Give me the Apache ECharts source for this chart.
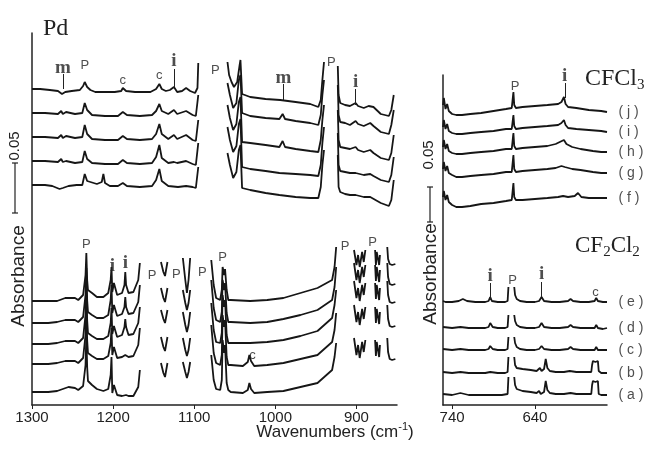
<!DOCTYPE html>
<html>
<head>
<meta charset="utf-8">
<script src="https://cdn.jsdelivr.net/npm/echarts@6/dist/echarts.min.js"></script>
<style>
  html, body { margin: 0; padding: 0; background: #fff; }
  #main { width: 656px; height: 450px; }
</style>
</head>
<body>
<div id="main"></div>
<script>
// tick labels of the two wavenumber axes
var pdTicks = [900, 1000, 1100, 1200, 1300];
var cfTicks = [640, 740];

// Pd panel, upper stack (CFCl3 runs), segments of [wavenumber, absorbance + offset]
var pdUp1 = [
  [[1300,.316],[1290,.316],[1278,.315],[1268,.314],[1263,.311],[1259,.313],[1251,.314],[1241,.315],[1237,.319],[1235,.323],[1232,.318],[1228,.315],[1222,.313],[1210,.313],[1198,.313],[1190,.314],[1188,.317],[1184,.314],[1173,.313],[1154,.313],[1147,.316],[1143,.321],[1140,.316],[1135,.314],[1130,.315],[1125,.318],[1121,.313],[1115,.314],[1110,.317],[1105,.314],[1099,.312],[1096,.317],[1095,.342]],
  [[1059,.343],[1057,.330],[1054,.323],[1051,.318],[1047,.323],[1044,.340],[1043,.345],[1041,.311],[1031,.308],[1012,.306],[994,.305],[975,.303],[957,.301],[947,.298],[944,.305],[942,.325],[940,.343]],
  [[923,.339],[922,.310],[920,.302],[914,.300],[908,.299],[901,.302],[898,.299],[891,.297],[885,.299],[883,.301],[879,.298],[870,.291],[860,.289],[857,.295],[854,.310]]
];
var pdUp2 = [
  [[1300,.292],[1284,.292],[1268,.291],[1264,.294],[1262,.291],[1258,.293],[1247,.291],[1238,.292],[1235,.302],[1232,.295],[1226,.290],[1210,.289],[1194,.289],[1188,.293],[1183,.290],[1167,.289],[1152,.290],[1147,.294],[1143,.301],[1140,.294],[1132,.291],[1125,.295],[1121,.291],[1110,.294],[1102,.290],[1098,.289],[1095,.310]],
  [[1059,.322],[1056,.310],[1052,.297],[1048,.302],[1045,.325],[1043,.330],[1041,.292],[1031,.289],[1012,.287],[995,.286],[991,.291],[988,.286],[975,.284],[957,.282],[947,.280],[944,.290],[942,.310],[940,.325]],
  [[923,.320],[922,.290],[920,.283],[914,.282],[908,.280],[901,.284],[898,.281],[891,.279],[883,.282],[879,.279],[870,.273],[860,.271],[857,.280],[854,.295]]
];
var pdUp3 = [
  [[1300,.268],[1284,.268],[1268,.267],[1264,.270],[1262,.267],[1258,.269],[1247,.267],[1238,.268],[1235,.280],[1232,.271],[1226,.266],[1210,.265],[1194,.265],[1188,.269],[1183,.266],[1167,.265],[1152,.266],[1147,.271],[1143,.281],[1140,.271],[1132,.266],[1125,.270],[1121,.266],[1110,.270],[1102,.265],[1098,.264],[1095,.285]],
  [[1059,.300],[1056,.287],[1052,.275],[1048,.281],[1045,.303],[1043,.308],[1041,.263],[1031,.262],[1012,.260],[995,.258],[991,.264],[988,.258],[975,.256],[957,.254],[947,.253],[944,.265],[942,.285],[940,.300]],
  [[923,.295],[922,.265],[920,.258],[914,.257],[908,.256],[901,.258],[898,.255],[891,.253],[883,.255],[879,.252],[870,.247],[860,.245],[857,.252],[854,.270]]
];
var pdUp4 = [
  [[1300,.244],[1284,.244],[1268,.243],[1264,.246],[1262,.243],[1258,.244],[1247,.242],[1238,.243],[1235,.254],[1232,.246],[1226,.242],[1210,.241],[1194,.241],[1188,.245],[1183,.242],[1167,.241],[1152,.242],[1147,.248],[1143,.260],[1140,.247],[1132,.242],[1125,.243],[1121,.242],[1110,.244],[1102,.241],[1098,.240],[1095,.262]],
  [[1059,.278],[1056,.265],[1052,.253],[1048,.259],[1045,.281],[1043,.286],[1041,.238],[1031,.236],[1012,.234],[995,.232],[975,.231],[957,.230],[947,.229],[944,.240],[942,.262],[940,.278]],
  [[923,.272],[922,.240],[920,.234],[914,.233],[908,.232],[901,.232],[891,.230],[883,.231],[879,.229],[870,.225],[860,.223],[857,.230],[854,.248]]
];
var pdUp5 = [
  [[1300,.220],[1284,.220],[1275,.219],[1266,.216],[1262,.217],[1255,.219],[1245,.220],[1238,.220],[1235,.231],[1232,.224],[1228,.223],[1220,.221],[1214,.223],[1212,.231],[1210,.222],[1204,.219],[1194,.219],[1188,.222],[1183,.219],[1167,.218],[1152,.219],[1147,.225],[1143,.236],[1140,.224],[1132,.219],[1120,.218],[1110,.219],[1102,.218],[1098,.217],[1095,.238]],
  [[1059,.252],[1056,.240],[1052,.227],[1048,.233],[1045,.255],[1043,.260],[1041,.217],[1031,.215],[1012,.212],[995,.210],[975,.208],[957,.207],[947,.207],[944,.218],[942,.240],[940,.255]],
  [[923,.250],[922,.218],[920,.213],[914,.211],[908,.210],[901,.210],[891,.208],[883,.208],[870,.202],[860,.199],[857,.205],[854,.225]]
];

// Pd panel, lower stack (CF2Cl2 runs)
var pdLo1 = [
  [[1300,.104],[1280,.104],[1269,.104],[1259,.107],[1247,.107],[1243,.105],[1237,.110],[1234,.130],[1233,.152],[1232,.125],[1231,.115],[1226,.112],[1220,.108],[1212,.108],[1206,.112],[1203,.125],[1202,.138],[1201,.113],[1199,.122],[1195,.110],[1189,.112],[1186,.120],[1185,.133],[1184,.120],[1181,.112],[1175,.113],[1169,.125],[1167,.142]],
  [[1141,.143],[1138,.133],[1136,.129],[1133,.143]],
  [[1114,.147],[1111,.125],[1109,.112],[1107,.125],[1105,.147]],
  [[1079,.145],[1076,.120],[1073,.107],[1068,.105],[1066,.115],[1065,.138],[1063,.130],[1062,.136],[1060,.115],[1058,.105],[1055,.105],[1031,.104],[1010,.105],[990,.107],[969,.112],[948,.117],[930,.125],[927,.138],[925,.158]],
  [[903,.155],[900,.140],[898,.150],[896,.138],[893,.153],[891,.143],[889,.155]],
  [[877,.155],[876,.140],[875,.153],[873,.155],[872,.140],[871,.150]],
  [[862,.158],[861,.146],[859,.141],[856,.140],[852,.141]]
];
var pdLo2 = [
  [[1300,.082],[1280,.082],[1269,.083],[1259,.085],[1247,.085],[1243,.083],[1237,.088],[1234,.110],[1233,.137],[1232,.105],[1231,.093],[1226,.090],[1220,.087],[1212,.087],[1206,.090],[1203,.105],[1202,.120],[1201,.092],[1199,.100],[1195,.089],[1189,.091],[1186,.098],[1185,.108],[1184,.098],[1181,.091],[1175,.092],[1169,.103],[1167,.120]],
  [[1141,.117],[1138,.107],[1136,.103],[1133,.117]],
  [[1114,.115],[1111,.102],[1109,.095],[1107,.102],[1105,.115]],
  [[1079,.125],[1076,.097],[1073,.085],[1068,.083],[1066,.093],[1065,.125],[1063,.115],[1062,.122],[1060,.092],[1058,.083],[1055,.083],[1031,.082],[1010,.083],[990,.086],[969,.090],[948,.095],[930,.105],[927,.118],[925,.138]],
  [[903,.142],[900,.125],[898,.135],[896,.122],[893,.138],[891,.128],[889,.140]],
  [[877,.140],[876,.124],[875,.138],[873,.140],[872,.123],[871,.135]],
  [[862,.142],[861,.128],[859,.121],[856,.120],[852,.121]]
];
var pdLo3 = [
  [[1300,.061],[1280,.061],[1269,.062],[1259,.064],[1247,.064],[1243,.062],[1237,.067],[1234,.090],[1233,.118],[1232,.085],[1231,.072],[1226,.069],[1220,.066],[1212,.066],[1206,.069],[1203,.082],[1202,.097],[1201,.071],[1199,.079],[1195,.068],[1189,.070],[1186,.078],[1185,.086],[1184,.078],[1181,.070],[1175,.071],[1169,.082],[1167,.098]],
  [[1141,.095],[1138,.086],[1136,.082],[1133,.095]],
  [[1114,.093],[1111,.080],[1109,.073],[1107,.080],[1105,.093]],
  [[1079,.102],[1076,.075],[1073,.063],[1068,.062],[1066,.072],[1065,.110],[1063,.098],[1062,.105],[1060,.070],[1058,.062],[1055,.062],[1031,.062],[1010,.063],[990,.065],[969,.069],[948,.074],[930,.087],[927,.100],[925,.115]],
  [[903,.124],[900,.107],[898,.117],[896,.104],[893,.120],[891,.110],[889,.122]],
  [[877,.122],[876,.106],[875,.120],[873,.122],[872,.105],[871,.117]],
  [[862,.124],[861,.110],[859,.103],[856,.102],[852,.103]]
];
var pdLo4 = [
  [[1300,.041],[1280,.041],[1269,.042],[1259,.044],[1247,.044],[1243,.042],[1237,.047],[1234,.070],[1233,.098],[1232,.065],[1231,.052],[1226,.049],[1220,.046],[1212,.046],[1206,.049],[1203,.062],[1202,.077],[1201,.050],[1199,.058],[1195,.047],[1189,.048],[1185,.050],[1184,.051],[1181,.048],[1175,.049],[1169,.060],[1167,.077]],
  [[1141,.068],[1138,.058],[1136,.054],[1133,.068]],
  [[1114,.067],[1111,.055],[1109,.049],[1107,.055],[1105,.067]],
  [[1079,.080],[1076,.052],[1073,.042],[1068,.040],[1066,.050],[1065,.090],[1063,.078],[1062,.085],[1060,.048],[1058,.040],[1055,.040],[1040,.039],[1034,.043],[1032,.050],[1030,.044],[1026,.039],[1010,.040],[990,.042],[969,.046],[948,.050],[930,.063],[927,.075],[925,.092]],
  [[903,.100],[900,.083],[898,.093],[896,.080],[893,.096],[891,.086],[889,.098]],
  [[877,.098],[876,.082],[875,.096],[873,.098],[872,.081],[871,.093]],
  [[862,.100],[861,.086],[859,.079],[856,.078],[852,.079]]
];
var pdLo5 = [
  [[1300,.013],[1280,.013],[1269,.014],[1255,.018],[1247,.017],[1243,.015],[1237,.019],[1234,.040],[1233,.070],[1232,.038],[1231,.024],[1226,.020],[1220,.016],[1212,.014],[1206,.016],[1203,.030],[1202,.048],[1201,.012],[1199,.020],[1195,.010],[1189,.009],[1184,.010],[1181,.009],[1175,.009],[1169,.018],[1167,.035]],
  [[1141,.042],[1138,.032],[1136,.028],[1133,.042]],
  [[1114,.043],[1111,.033],[1109,.027],[1107,.033],[1105,.043]],
  [[1079,.050],[1076,.025],[1073,.016],[1068,.015],[1066,.025],[1065,.065],[1063,.052],[1062,.060],[1060,.022],[1058,.015],[1055,.013],[1040,.012],[1034,.015],[1032,.022],[1030,.016],[1026,.012],[1010,.013],[990,.014],[969,.018],[948,.022],[930,.035],[927,.048],[925,.062]],
  [[903,.067],[900,.050],[898,.060],[896,.047],[893,.063],[891,.053],[889,.065]],
  [[877,.065],[876,.049],[875,.063],[873,.065],[872,.048],[871,.060]],
  [[862,.067],[861,.053],[859,.046],[856,.045],[852,.046]]
];

// right panel, CFCl3 (j..f)
var cfJ = [[[751,.300],[750,.307],[748,.296],[746,.301],[744,.294],[740,.291],[735,.290],[728,.290],[718,.291],[705,.292],[690,.294],[675,.296],[668,.297],[666,.313],[665,.300],[663,.297],[655,.298],[640,.299],[625,.300],[612,.301],[608,.303],[605,.308],[603,.301],[600,.298],[590,.297],[575,.295],[560,.294],[553,.293]]];
var cfI = [[[751,.278],[750,.285],[748,.276],[746,.281],[744,.274],[740,.272],[735,.271],[728,.271],[718,.272],[705,.273],[690,.274],[675,.276],[668,.276],[666,.290],[665,.279],[663,.276],[655,.277],[640,.278],[625,.279],[612,.280],[608,.282],[605,.285],[603,.280],[600,.277],[590,.276],[575,.275],[560,.274],[553,.273]]];
var cfH = [[[751,.258],[750,.265],[748,.256],[746,.261],[744,.254],[740,.252],[735,.251],[728,.251],[718,.252],[705,.253],[690,.254],[675,.256],[668,.256],[666,.272],[665,.259],[663,.256],[655,.257],[640,.258],[625,.259],[615,.261],[610,.263],[605,.265],[602,.261],[595,.258],[585,.256],[570,.254],[560,.253],[553,.253]]];
var cfG = [[[751,.236],[750,.243],[748,.234],[746,.239],[744,.232],[740,.230],[735,.228],[728,.228],[718,.229],[705,.230],[690,.231],[675,.233],[668,.233],[666,.250],[665,.236],[663,.233],[655,.234],[640,.235],[625,.236],[615,.237],[608,.239],[604,.238],[595,.236],[585,.235],[570,.233],[560,.232],[553,.232]]];
var cfF = [[[751,.208],[750,.214],[748,.205],[746,.210],[744,.203],[740,.200],[735,.198],[728,.198],[718,.199],[705,.201],[690,.202],[675,.204],[668,.205],[666,.222],[665,.208],[663,.205],[655,.205],[640,.206],[625,.207],[612,.208],[606,.209],[600,.208],[592,.209],[588,.212],[584,.208],[575,.207],[565,.207],[553,.207]]];

// right panel, CF2Cl2 (e..a)
var cfE = [
  [[751,.104],[748,.103],[740,.103],[732,.104],[727,.106],[722,.104],[712,.103],[700,.103],[696,.104],[694,.108],[692,.104],[685,.103],[676,.103],[673,.104],[672,.118]],
  [[665,.118],[664,.110],[662,.106],[658,.104],[650,.103],[640,.103],[635,.104],[632,.108],[629,.104],[620,.103],[610,.103],[600,.104],[597,.106],[594,.104],[585,.103],[575,.103],[568,.104],[566,.107],[564,.104],[558,.103],[553,.103]]
];
var cfD = [
  [[751,.078],[740,.077],[730,.078],[720,.077],[710,.077],[700,.077],[696,.078],[694,.082],[691,.078],[685,.077],[676,.077],[673,.078],[672,.090]],
  [[665,.090],[664,.084],[662,.080],[658,.078],[650,.077],[640,.077],[635,.078],[632,.082],[629,.078],[620,.077],[610,.077],[600,.078],[597,.080],[594,.078],[585,.077],[575,.077],[568,.077],[566,.080],[564,.077],[558,.076],[553,.077]]
];
var cfC = [
  [[751,.056],[740,.055],[730,.056],[720,.055],[710,.055],[700,.055],[696,.056],[694,.059],[691,.056],[685,.055],[676,.055],[673,.056],[672,.068]],
  [[665,.068],[664,.062],[662,.058],[658,.056],[650,.055],[640,.055],[635,.056],[632,.059],[629,.056],[620,.055],[610,.055],[600,.056],[597,.058],[594,.056],[585,.055],[575,.055],[568,.055],[566,.058],[564,.055],[558,.055],[553,.055]]
];
var cfB = [
  [[751,.033],[740,.032],[730,.033],[720,.032],[710,.032],[700,.032],[694,.033],[685,.032],[676,.032],[673,.033],[672,.048]],
  [[665,.048],[664,.040],[662,.037],[655,.036],[645,.035],[638,.034],[634,.037],[632,.034],[629,.036],[627,.046],[625,.037],[622,.034],[615,.033],[605,.033],[598,.034],[590,.033],[580,.033],[572,.033],[571,.040],[570,.044],[568,.045],[567,.043],[566,.045],[564,.044],[563,.034],[560,.032],[553,.032]]
];
var cfA = [
  [[751,.011],[740,.010],[730,.012],[720,.010],[710,.010],[700,.010],[690,.010],[680,.010],[673,.011],[672,.028]],
  [[665,.028],[664,.020],[662,.016],[655,.014],[645,.013],[638,.012],[635,.014],[633,.011],[629,.013],[627,.024],[625,.015],[622,.012],[615,.011],[605,.011],[597,.012],[590,.011],[580,.011],[572,.011],[571,.020],[570,.024],[568,.025],[567,.023],[566,.025],[564,.024],[563,.011],[560,.010],[553,.010]]
];

// band assignments: [text, wavenumber, height]
var pdSansMarks = [['P',1235,.340],['c',1188,.325],['c',1143,.330],['P',1074,.335],['P',931,.343],
  ['P',1233,.161],['P',1152,.130],['P',1122,.131],['P',1090,.133],['P',1065,.148],['c',1028,.050],['P',914,.159],['P',880,.163]];
var pdSerifMarks = [['m',1262,.337],['i',1125,.344],['m',990,.327],['i',901,.323],['i',1201,.139],['i',1185,.142]];
var pdTickMarks = [[1262,.331,.316],[1125,.336,.318],[990,.321,.305],[901,.316,.300]];
var cfSansMarks = [['P',664,.319],['P',667,.125],['c',567,.113]];
var cfSerifMarks = [['i',604,.329],['i',694,.129],['i',632,.131]];
var cfTickMarks = [[604,.322,.307],[694,.122,.105],[632,.123,.108]];
var cfTags = [['( j )',.293],['( i )',.273],['( h )',.253],['( g )',.232],['( f )',.207],
  ['( e )',.103],['( d )',.077],['( c )',.055],['( b )',.032],['( a )',.010]];

var INK = '#161616';
var SANS = '"Liberation Sans", Arial, sans-serif';
var SERIF = '"Liberation Serif", "Times New Roman", serif';

function joinSegs(segs) {
  var out = [];
  segs.forEach(function (s, k) {
    if (k > 0) out.push([s[0][0], '-']);
    out = out.concat(s);
  });
  return out;
}

function trace(segs, gi) {
  return {
    type: 'line', xAxisIndex: gi, yAxisIndex: gi,
    data: joinSegs(segs), symbol: 'none', connectNulls: false,
    lineStyle: { color: INK, width: 1.8 }, silent: true, animation: false
  };
}

function marks(list, gi, font, ticks) {
  var s = {
    type: 'scatter', xAxisIndex: gi, yAxisIndex: gi, symbolSize: 1, silent: true, animation: false,
    itemStyle: { color: 'rgba(0,0,0,0)' },
    data: list.map(function (a) { return { name: a[0], value: [a[1], a[2]] }; }),
    label: Object.assign({ show: true, position: 'inside', formatter: '{b}', color: '#222' }, font),
    z: 5
  };
  if (ticks) {
    s.markLine = {
      symbol: 'none', silent: true, animation: false, label: { show: false },
      lineStyle: { color: '#222', width: 1, type: 'solid' },
      data: ticks.map(function (t) { return [{ coord: [t[0], t[1]] }, { coord: [t[0], t[2]] }]; })
    };
  }
  return s;
}

var sansFont = { fontFamily: SANS, fontSize: 13 };
var serifFont = { fontFamily: SERIF, fontSize: 19, fontWeight: 'bold' };

var series = [];
[pdUp1, pdUp2, pdUp3, pdUp4, pdUp5, pdLo1, pdLo2, pdLo3, pdLo4, pdLo5].forEach(function (t) { series.push(trace(t, 0)); });
[cfJ, cfI, cfH, cfG, cfF, cfE, cfD, cfC, cfB, cfA].forEach(function (t) { series.push(trace(t, 1)); });
series.push(marks(pdSansMarks, 0, sansFont));
series.push(marks(pdSerifMarks, 0, serifFont, pdTickMarks));
series.push(marks(cfSansMarks, 1, sansFont));
series.push(marks(cfSerifMarks, 1, serifFont, cfTickMarks));
series.push({
  type: 'scatter', xAxisIndex: 1, yAxisIndex: 1, symbolSize: 1, silent: true, animation: false,
  itemStyle: { color: 'rgba(0,0,0,0)' },
  data: cfTags.map(function (t) { return { name: t[0], value: [553, t[1]] }; }),
  label: { show: true, position: 'right', distance: 11, formatter: '{b}', color: '#222', fontFamily: SANS, fontSize: 14 }
});

function xAxisFor(gi, min, max, ticks) {
  return {
    type: 'value', gridIndex: gi, min: min, max: max, inverse: true,
    axisLine: { onZero: false, lineStyle: { color: '#222', width: 1.5 } },
    axisTick: { length: 4, customValues: ticks, lineStyle: { color: '#222', width: 1 } },
    axisLabel: { customValues: ticks, margin: 5, color: '#222', fontFamily: SANS, fontSize: 15,
      formatter: function (v) { return String(v); } },
    splitLine: { show: false }
  };
}
function yAxisFor(gi, max) {
  return {
    type: 'value', gridIndex: gi, min: 0, max: max,
    axisLine: { show: true, lineStyle: { color: '#222', width: 1.5 } },
    axisTick: { show: false }, axisLabel: { show: false }, splitLine: { show: false }
  };
}

function scaleBar(x, y1, y2) {
  return [
    { type: 'line', shape: { x1: x, y1: y1, x2: x, y2: y2 }, style: { stroke: '#222', lineWidth: 1.2 } },
    { type: 'line', shape: { x1: x - 3, y1: y1, x2: x + 3, y2: y1 }, style: { stroke: '#222', lineWidth: 1.2 } },
    { type: 'line', shape: { x1: x - 3, y1: y2, x2: x + 3, y2: y2 }, style: { stroke: '#222', lineWidth: 1.2 } }
  ];
}
function vText(x, y, text, size) {
  return { type: 'text', x: x, y: y, rotation: Math.PI / 2,
    style: { text: text, fill: '#222', font: size + 'px ' + SANS, textAlign: 'center', textVerticalAlign: 'middle' } };
}

var chart = echarts.init(document.getElementById('main'), null, { renderer: 'canvas' });
chart.setOption({
  animation: false,
  backgroundColor: '#fff',
  grid: [
    { left: 32, top: 33, width: 365, height: 372 },
    { left: 443, top: 75, width: 164, height: 330 }
  ],
  xAxis: [xAxisFor(0, 850, 1300, pdTicks), xAxisFor(1, 553, 751, cfTicks)],
  yAxis: [yAxisFor(0, 0.372), yAxisFor(1, 0.330)],
  series: series,
  graphic: [].concat(
    scaleBar(15, 163, 213),
    scaleBar(430, 187, 222),
    [
      vText(15, 146, '0.05', 15),
      vText(429, 155, '0.05', 15),
      vText(19, 276, 'Absorbance', 19),
      vText(431, 274, 'Absorbance', 19),
      { type: 'text', x: 43, y: 29, style: { text: 'Pd', fill: '#222', font: '24px ' + SERIF, textVerticalAlign: 'middle' } },
      { type: 'text', x: 585, y: 79, style: { text: '{n|CFCl}{s|3}', fill: '#222', textVerticalAlign: 'middle',
          rich: { n: { fontFamily: SERIF, fontSize: 24, lineHeight: 28 }, s: { fontFamily: SERIF, fontSize: 15, verticalAlign: 'bottom' } } } },
      { type: 'text', x: 575, y: 246, style: { text: '{n|CF}{s|2}{n|Cl}{s|2}', fill: '#222', textVerticalAlign: 'middle',
          rich: { n: { fontFamily: SERIF, fontSize: 23, lineHeight: 28 }, s: { fontFamily: SERIF, fontSize: 15, verticalAlign: 'bottom' } } } },
      { type: 'text', x: 335, y: 432, style: { text: '{n|Wavenumbers (cm}{p|-1}{n|)}', fill: '#222', textAlign: 'center', textVerticalAlign: 'middle',
          rich: { n: { fontFamily: SANS, fontSize: 17, lineHeight: 21 }, p: { fontFamily: SANS, fontSize: 11, verticalAlign: 'top' } } } }
    ]
  )
});
</script>
</body>
</html>
